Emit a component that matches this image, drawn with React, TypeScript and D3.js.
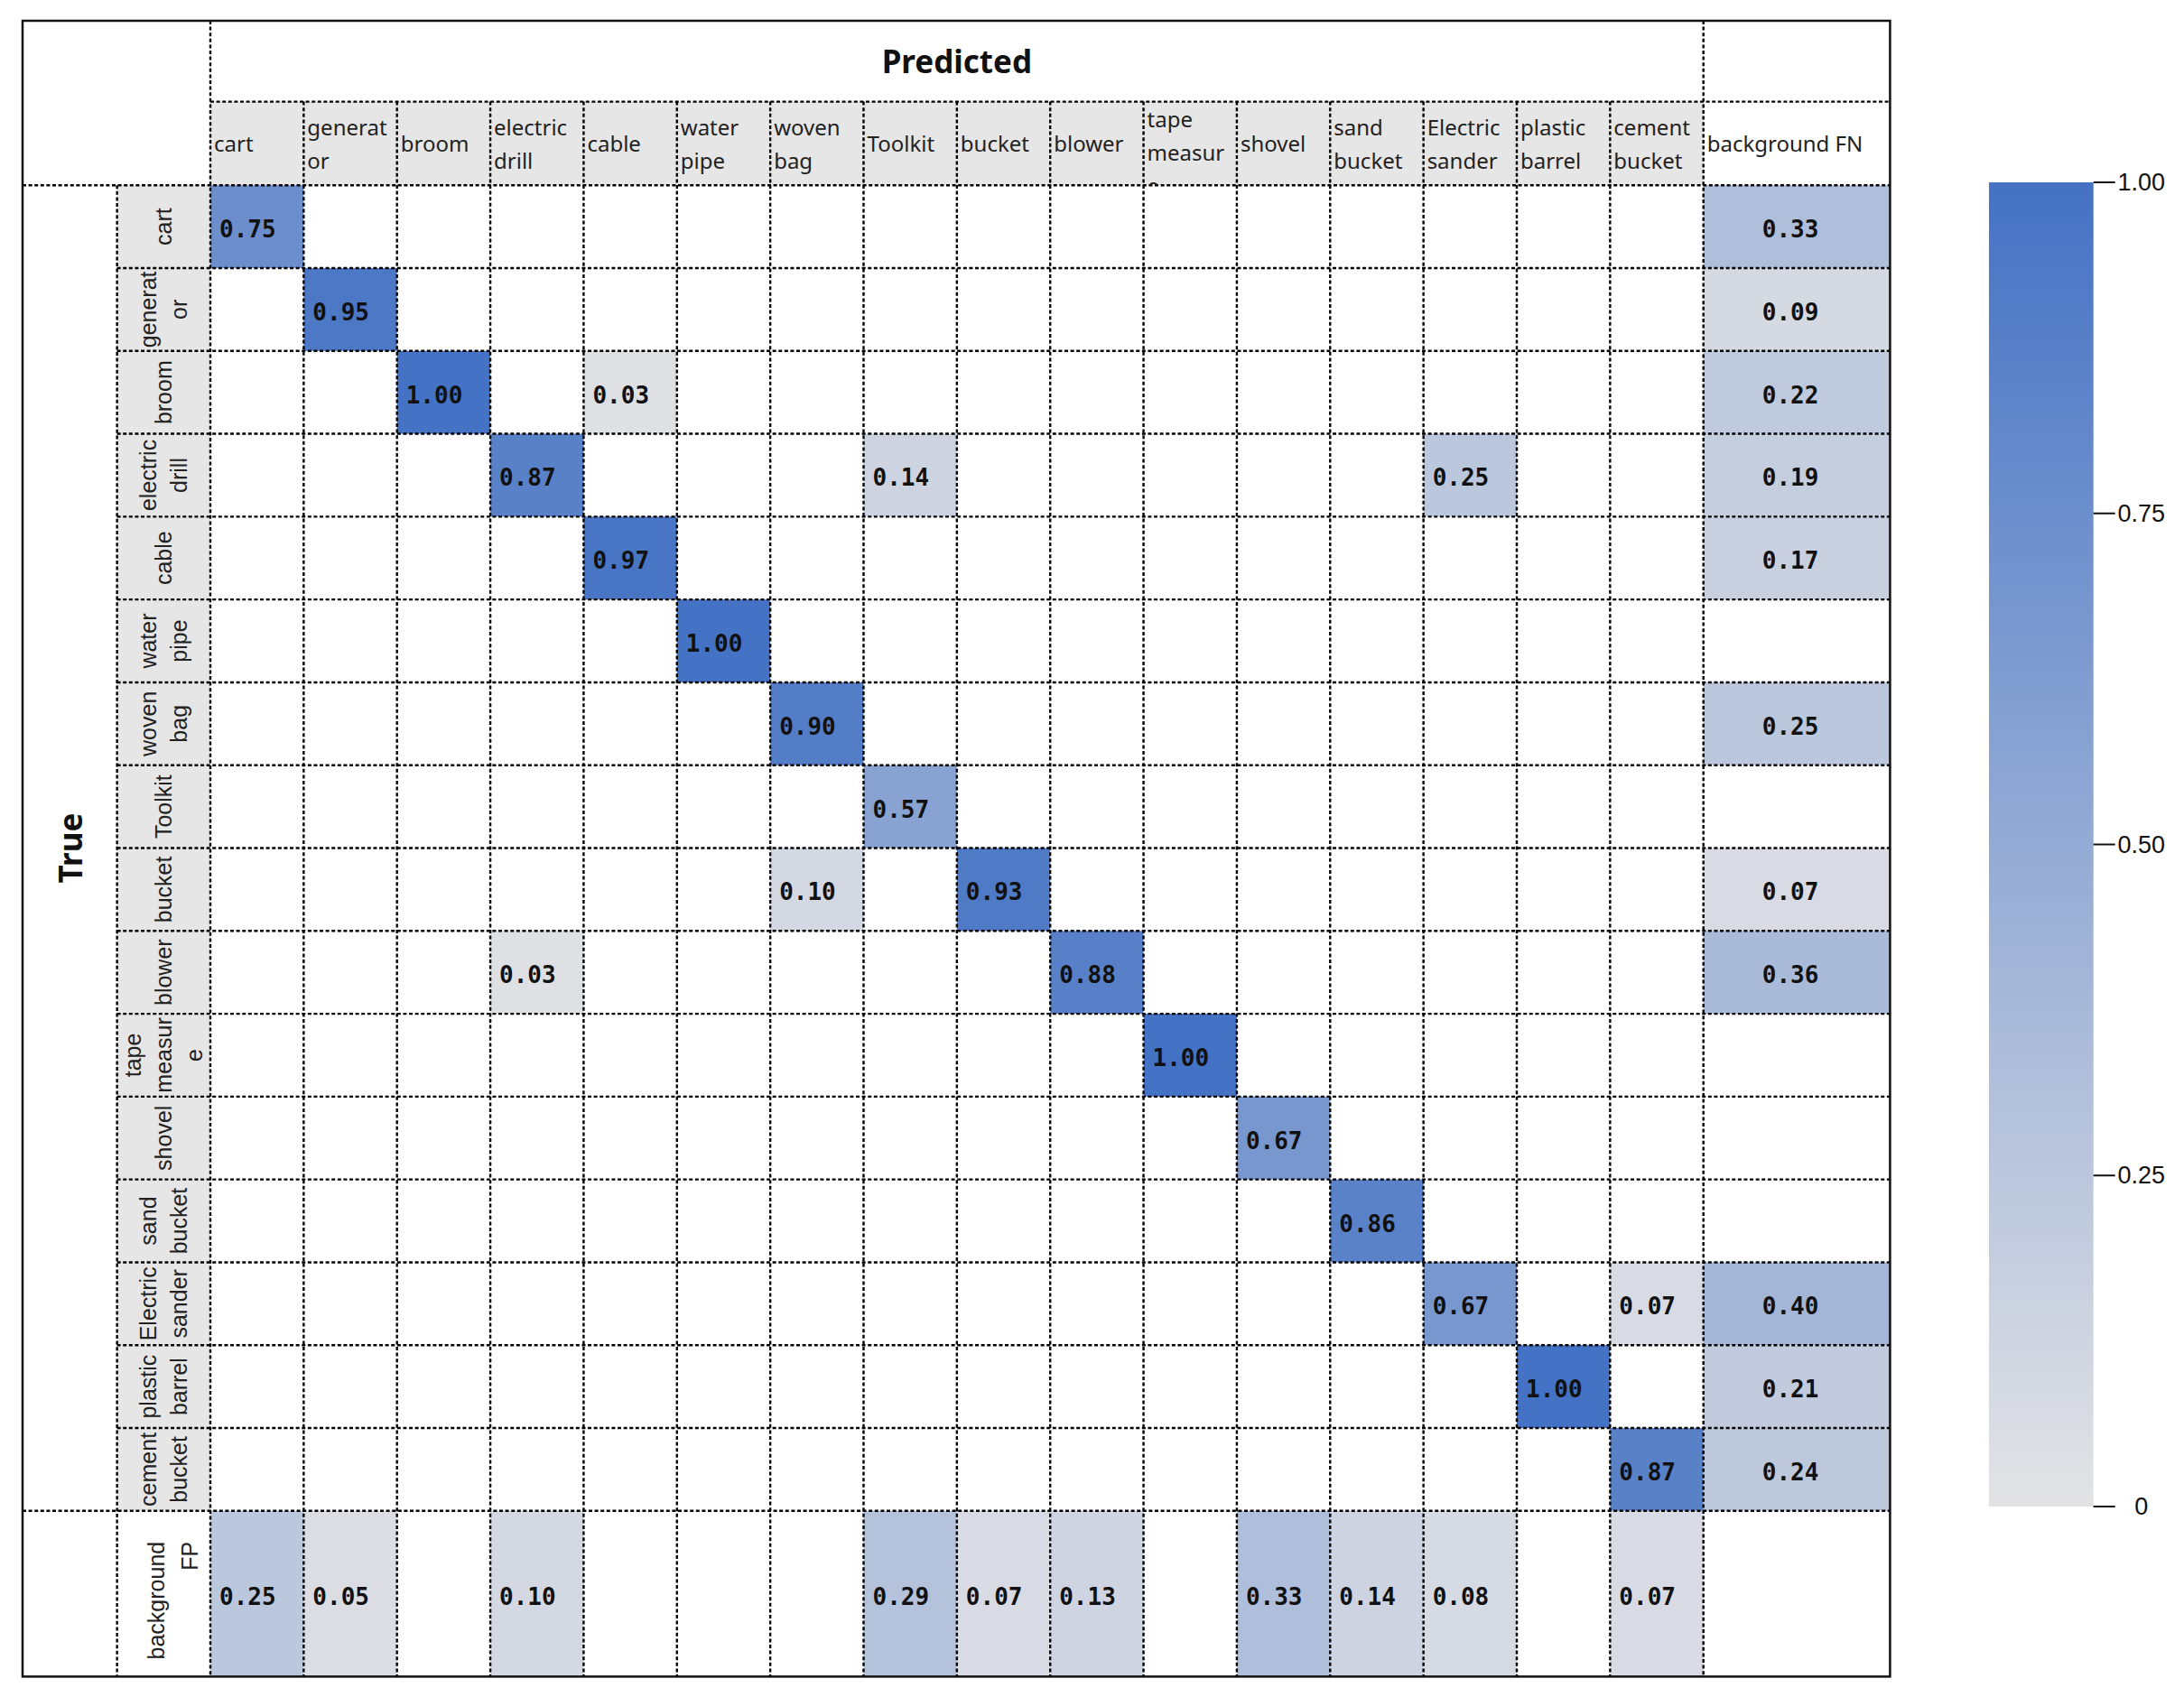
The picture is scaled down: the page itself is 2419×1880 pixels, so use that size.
import { useEffect, useRef } from "react";
import * as d3 from "d3";

const classes = [
  "cart",
  "generator",
  "broom",
  "electric drill",
  "cable",
  "water pipe",
  "woven bag",
  "Toolkit",
  "bucket",
  "blower",
  "tape measure",
  "shovel",
  "sand bucket",
  "Electric sander",
  "plastic barrel",
  "cement bucket",
];

// labels wrapped the way the cells show them
const classLines = [
  ["cart"],
  ["generat", "or"],
  ["broom"],
  ["electric", "drill"],
  ["cable"],
  ["water", "pipe"],
  ["woven", "bag"],
  ["Toolkit"],
  ["bucket"],
  ["blower"],
  ["tape", "measur", "e"],
  ["shovel"],
  ["sand", "bucket"],
  ["Electric", "sander"],
  ["plastic", "barrel"],
  ["cement", "bucket"],
];

const diagonal = [0.75, 0.95, 1.0, 0.87, 0.97, 1.0, 0.9, 0.57, 0.93, 0.88, 1.0, 0.67, 0.86, 0.67, 1.0, 0.87];

// [true, predicted, value]
const offDiagonal: [string, string, number][] = [
  ["broom", "cable", 0.03],
  ["electric drill", "Toolkit", 0.14],
  ["electric drill", "Electric sander", 0.25],
  ["bucket", "woven bag", 0.1],
  ["blower", "electric drill", 0.03],
  ["Electric sander", "cement bucket", 0.07],
];

const backgroundFN = [0.33, 0.09, 0.22, 0.19, 0.17, null, 0.25, null, 0.07, 0.36, null, null, null, 0.4, 0.21, 0.24];
const backgroundFP = [0.25, 0.05, null, 0.1, null, null, null, 0.29, 0.07, 0.13, null, 0.33, 0.14, 0.08, null, 0.07];

const barTicks = [0, 0.25, 0.5, 0.75, 1];
const barTickLabels = ["0", "0.25", "0.50", "0.75", "1.00"];

const App = () => {
  const ref = useRef<SVGSVGElement>(null);

  useEffect(() => {
    if (!ref.current) return;
    const svg = d3.select(ref.current);
    svg.selectAll("*").remove();

    const gridX0 = 233;
    const gridX1 = 1886.7;
    const gridY0 = 205.2;
    const gridY1 = 1673.8;
    const x = d3.scaleBand().domain(classes).range([gridX0, gridX1]);
    const y = d3.scaleBand().domain(classes).range([gridY0, gridY1]);
    const cw = x.bandwidth();
    const ch = y.bandwidth();

    const frameL = 25;
    const frameT = 23;
    const frameR = gridX1 + 2 * cw;
    const frameB = gridY1 + 2 * ch;
    const headT = gridY0 - 92.6;
    const labelX0 = gridX0 - cw;

    const color = d3.scaleLinear<string>().domain([0, 1]).range(["#e3e3e5", "#4472c4"]);
    const numFont = "'DejaVu Sans Mono', monospace";
    const fmt = d3.format(".2f");

    // grey header backgrounds
    svg.append("rect")
      .attr("x", gridX0).attr("y", headT)
      .attr("width", gridX1 - gridX0).attr("height", gridY0 - headT)
      .attr("fill", "#e7e6e6");
    svg.append("rect")
      .attr("x", labelX0).attr("y", gridY0)
      .attr("width", cw).attr("height", gridY1 - gridY0)
      .attr("fill", "#e7e6e6");

    // cells
    const cells: { r: number; c: number; v: number; w: number; h: number }[] = [];
    classes.forEach((cl, i) => {
      cells.push({ r: y(cl)!, c: x(cl)!, v: diagonal[i], w: cw, h: ch });
    });
    offDiagonal.forEach(([t, p, v]) => cells.push({ r: y(t)!, c: x(p)!, v, w: cw, h: ch }));
    backgroundFN.forEach((v, i) => {
      if (v != null) cells.push({ r: y(classes[i])!, c: gridX1, v, w: 2 * cw, h: ch });
    });
    backgroundFP.forEach((v, i) => {
      if (v != null) cells.push({ r: gridY1, c: x(classes[i])!, v, w: cw, h: 2 * ch });
    });

    svg.append("g").selectAll("rect").data(cells).join("rect")
      .attr("x", (d) => d.c).attr("y", (d) => d.r)
      .attr("width", (d) => d.w).attr("height", (d) => d.h)
      .attr("fill", (d) => color(d.v));

    svg.append("g").selectAll("text").data(cells).join("text")
      .attr("x", (d) => (d.w > cw ? d.c + d.w / 2 - 7 : d.c + 10))
      .attr("y", (d) => d.r + d.h / 2 + 3)
      .attr("text-anchor", (d) => (d.w > cw ? "middle" : "start"))
      .attr("dominant-baseline", "central")
      .attr("font-family", numFont)
      .attr("font-weight", "bold")
      .attr("font-size", 26)
      .attr("fill", "#111")
      .text((d) => fmt(d.v));

    // dashed grid
    const lines = svg.append("g")
      .attr("stroke", "#000").attr("stroke-width", 2.4).attr("stroke-dasharray", "4 2.6");
    const hline = (y0: number, a: number, b: number) =>
      lines.append("line").attr("x1", a).attr("x2", b).attr("y1", y0).attr("y2", y0);
    const vline = (x0: number, a: number, b: number) =>
      lines.append("line").attr("x1", x0).attr("x2", x0).attr("y1", a).attr("y2", b);

    hline(headT, gridX0, frameR);
    hline(gridY0, frameL, frameR);
    hline(gridY1, frameL, frameR);
    classes.slice(1).forEach((cl) => hline(y(cl)!, labelX0, frameR));
    vline(gridX0, frameT, frameB);
    vline(gridX1, frameT, frameB);
    vline(labelX0, gridY0, frameB);
    classes.slice(1).forEach((cl) => vline(x(cl)!, headT, frameB));

    // frame
    svg.append("rect")
      .attr("x", frameL).attr("y", frameT)
      .attr("width", frameR - frameL).attr("height", frameB - frameT)
      .attr("fill", "none").attr("stroke", "#111").attr("stroke-width", 2.5);

    // column headers
    svg.append("clipPath").attr("id", "headClip")
      .append("rect").attr("x", gridX0).attr("y", headT)
      .attr("width", frameR - gridX0).attr("height", gridY0 - headT);
    const head = svg.append("g").attr("clip-path", "url(#headClip)")
      .attr("font-family", "'Noto Sans', sans-serif").attr("font-size", 24).attr("fill", "#222");
    const headH = gridY0 - headT;
    const lh = 37;
    const headerCols = [
      ...classes.map((cl, i) => ({ x: x(cl)!, lines: classLines[i] })),
      { x: gridX1, lines: ["background FN"] },
    ];
    headerCols.forEach((hc) => {
      const n = hc.lines.length;
      const start = n * lh > headH ? headT + lh / 2 : headT + headH / 2 - ((n - 1) * lh) / 2;
      hc.lines.forEach((t, k) => {
        head.append("text")
          .attr("x", hc.x + 4).attr("y", start + k * lh)
          .attr("dominant-baseline", "central")
          .text(t);
      });
    });

    // row labels, rotated
    const rows = svg.append("g")
      .attr("font-family", "'Liberation Sans', Arial, sans-serif").attr("font-size", 25).attr("fill", "#222");
    const rlh = 34;
    classes.forEach((cl, i) => {
      const cx = labelX0 + cw / 2;
      const cy = y(cl)! + ch / 2;
      const ls = classLines[i];
      const g = rows.append("g").attr("transform", `translate(${cx},${cy}) rotate(-90)`);
      ls.forEach((t, k) => {
        g.append("text")
          .attr("x", 0).attr("y", (k - (ls.length - 1) / 2) * rlh)
          .attr("text-anchor", "middle").attr("dominant-baseline", "central")
          .text(t);
      });
    });
    const fpLabel = rows.append("g").attr("transform", `translate(173,${gridY1 + 34}) rotate(-90)`);
    ["background", "FP"].forEach((t, k) => {
      fpLabel.append("text")
        .attr("x", 0).attr("y", k * 37)
        .attr("text-anchor", "end").attr("dominant-baseline", "central")
        .text(t);
    });

    // axis titles
    svg.append("text")
      .attr("x", (gridX0 + gridX1) / 2).attr("y", (frameT + headT) / 2)
      .attr("text-anchor", "middle").attr("dominant-baseline", "central")
      .attr("font-family", "'Noto Sans', sans-serif").attr("font-weight", "bold")
      .attr("font-size", 35).attr("fill", "#111")
      .text("Predicted");
    svg.append("text")
      .attr("transform", `translate(${(frameL + labelX0) / 2},${(gridY0 + gridY1) / 2}) rotate(-90)`)
      .attr("text-anchor", "middle").attr("dominant-baseline", "central")
      .attr("font-family", "'Noto Sans', sans-serif").attr("font-weight", "bold")
      .attr("font-size", 35).attr("fill", "#111")
      .text("True");

    // colour bar
    const barX = 2203;
    const barW = 115.7;
    const barY = d3.scaleLinear().domain([0, 1]).range([1669, 202]);
    const grad = svg.append("defs").append("linearGradient")
      .attr("id", "barGrad").attr("x1", 0).attr("x2", 0).attr("y1", 1).attr("y2", 0);
    grad.append("stop").attr("offset", "0%").attr("stop-color", color(0));
    grad.append("stop").attr("offset", "100%").attr("stop-color", color(1));
    svg.append("rect")
      .attr("x", barX).attr("y", barY(1))
      .attr("width", barW).attr("height", barY(0) - barY(1))
      .attr("fill", "url(#barGrad)");
    const tick = svg.append("g").selectAll("g").data(barTicks).join("g")
      .attr("transform", (d) => `translate(${barX + barW},${barY(d)})`);
    tick.append("line").attr("x1", 0).attr("x2", 24).attr("stroke", "#111").attr("stroke-width", 2);
    tick.append("text")
      .attr("x", 53).attr("text-anchor", "middle").attr("dominant-baseline", "central")
      .attr("font-family", "'Liberation Sans', Arial, sans-serif").attr("font-size", 27).attr("fill", "#111")
      .text((d, i) => barTickLabels[i]);
  }, []);

  return (
    <svg
      ref={ref}
      width={2419}
      height={1880}
      style={{ position: "absolute", left: 0, top: 0, background: "#fff" }}
    />
  );
};

export default App;
